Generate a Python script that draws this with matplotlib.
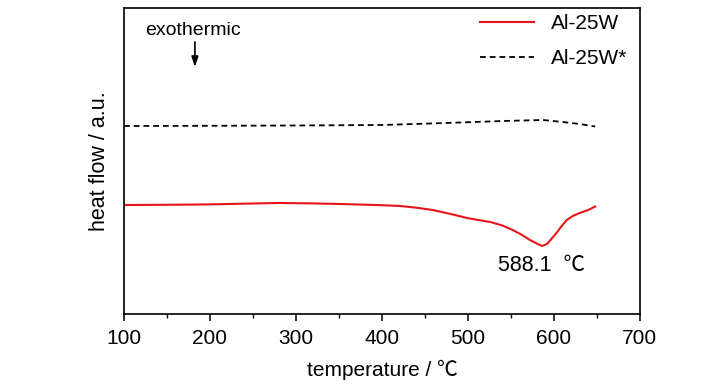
import matplotlib
matplotlib.use("Agg")
import matplotlib.pyplot as plt
from matplotlib.ticker import MultipleLocator

# DSC traces (heat flow in arbitrary units)
temp_al25w = [100, 150, 200, 250, 280, 320, 360, 400, 421, 440, 459, 480, 499,
              512, 526, 540, 552, 562, 572, 580, 586, 592, 597, 603, 609, 615,
              622, 630, 640, 648]
flow_al25w = [109, 109.2, 109.6, 110.5, 111, 110.6, 109.8, 108.8, 108, 106.3, 104,
              100, 96, 94, 92, 88.5, 84, 79.5, 74, 70.5, 68, 70, 75, 81, 88, 94,
              98, 101, 104, 107.5]

temp_al25w_star = [100, 200, 300, 400, 464, 541, 587, 607, 630, 648]
flow_al25w_star = [188, 188.2, 188.5, 189, 190.7, 193, 194, 192.3, 190, 187.5]

peak_temp = 588.1

fonts = ["Liberation Sans", "Noto Sans CJK SC", "DejaVu Sans"]
plt.rcParams["font.family"] = fonts

fig = plt.figure(figsize=(7.28, 3.9), dpi=100)
ax = fig.add_axes([0.1703, 0.1949, 0.879 - 0.1703, 0.9795 - 0.1949])

ax.plot(temp_al25w, flow_al25w, color="#e8141a", lw=1.5, label="Al-25W")
ax.plot(temp_al25w_star, flow_al25w_star, color="black", lw=1.3,
        linestyle=(0, (3.2, 2.2)), label="Al-25W*")

ax.set_xlim(100, 700)
ax.set_ylim(0, 306)
ax.xaxis.set_major_locator(MultipleLocator(100))
ax.xaxis.set_minor_locator(MultipleLocator(50))
ax.tick_params(axis="x", which="major", direction="out", length=5, width=1.1,
               pad=6, labelsize=15)
ax.tick_params(axis="x", which="minor", direction="out", length=3, width=1.0)
ax.set_yticks([])
for sp in ax.spines.values():
    sp.set_linewidth(1.2)

ax.set_xlabel("temperature / ℃", fontsize=15, labelpad=8)
ax.set_ylabel("heat flow / a.u.", fontsize=15.5, labelpad=10)

ax.text(180, 283, "exothermic", fontsize=14, ha="center", va="center")
ax.annotate("", xy=(182.5, 247), xytext=(182.5, 272),
            arrowprops=dict(arrowstyle="-|>,head_width=0.2,head_length=0.6",
                            color="black", lw=1.2, shrinkA=0, shrinkB=0))
ax.text(peak_temp - 2, 48, f"{peak_temp}  ℃", fontsize=15.5,
        ha="center", va="center")

ax.legend(loc="upper right", frameon=False, prop={"size": 15},
          handlelength=2.6, labelspacing=0.75, handletextpad=0.8,
          borderaxespad=0.2, bbox_to_anchor=(1.0, 1.02))

fig.savefig("out.png", dpi=100)
